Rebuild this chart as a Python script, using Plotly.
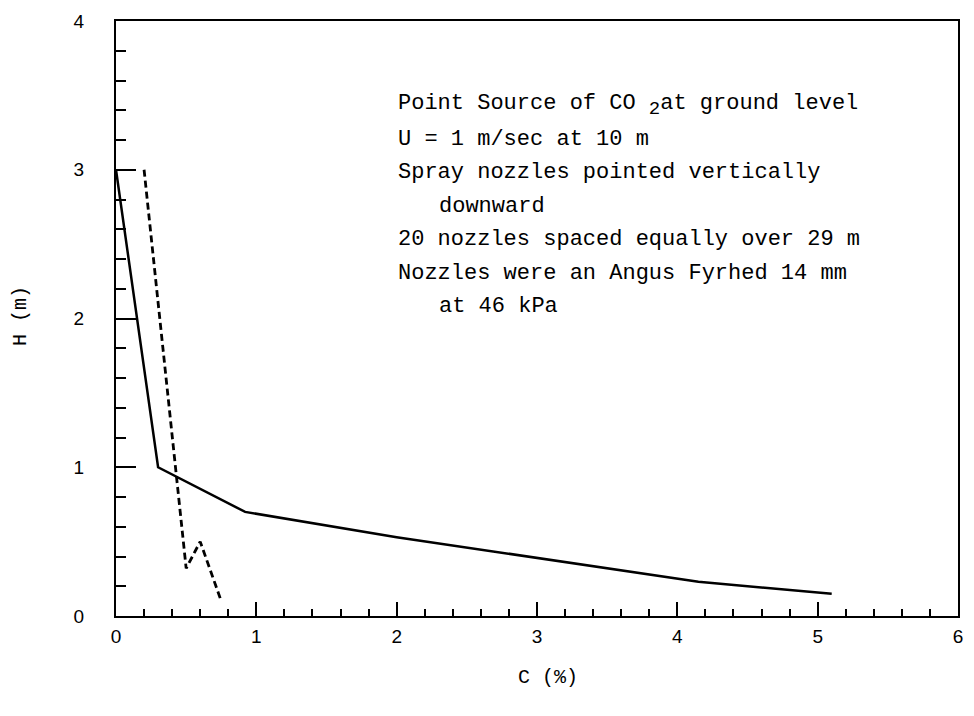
import plotly.graph_objects as go

# Concentration profiles: height H (m) versus CO2 concentration C (%)
solid_c = [0.0, 0.3, 0.92, 2.0, 4.15, 5.1]
solid_h = [3.0, 1.0, 0.70, 0.53, 0.23, 0.15]

dashed_c = [0.2, 0.5, 0.6, 0.75]
dashed_h = [3.0, 0.32, 0.5, 0.1]

x_ticks = [0, 1, 2, 3, 4, 5, 6]
y_ticks = [0, 1, 2, 3, 4]

notes = [
    ("Point Source of CO <sub><span style='font-size:19px'>2</span></sub>at ground level", 0),
    ("U = 1 m/sec at 10 m", 0),
    ("Spray nozzles pointed vertically", 0),
    ("downward", 1),
    ("20 nozzles spaced equally over 29 m", 0),
    ("Nozzles were an Angus Fyrhed 14 mm", 0),
    ("at 46 kPa", 1),
]

MONO = "Liberation Mono, Courier New, monospace"
SANS = "Liberation Sans, Arial, sans-serif"

fig = go.Figure()
fig.add_trace(go.Scatter(x=solid_c, y=solid_h, mode="lines",
                         line=dict(color="black", width=2.5),
                         showlegend=False))
fig.add_trace(go.Scatter(x=dashed_c, y=dashed_h, mode="lines",
                         line=dict(color="black", width=2.8, dash="7px,4px"),
                         showlegend=False))

W, H = 974, 716
ml, mr, mt, mb = 116, 11, 18, 100
pw, ph = W - ml - mr, H - mt - mb

def px_to_paper(xp, yp):
    return (xp - ml) / pw, (H - mb - yp) / ph

annotations = []
line_y = [103, 137, 170, 204, 238, 272, 305]
for (txt, indent), yp in zip(notes, line_y):
    xpp, ypp = px_to_paper(398 + indent * 41, yp)
    annotations.append(dict(text=txt, xref="paper", yref="paper", x=xpp, y=ypp,
                            xanchor="left", yanchor="middle", showarrow=False,
                            font=dict(family=MONO, size=22, color="black")))

xt, yt = px_to_paper(551, 678)
annotations.append(dict(text="C (%)", xref="paper", yref="paper", x=xt, y=yt,
                        xanchor="center", yanchor="middle", showarrow=False,
                        font=dict(family=MONO, size=20, color="black")))
xt, yt = px_to_paper(20, 315)
annotations.append(dict(text="H (m)", xref="paper", yref="paper", x=xt, y=yt,
                        xanchor="center", yanchor="middle", showarrow=False,
                        textangle=-90,
                        font=dict(family=MONO, size=20, color="black")))

fig.update_layout(
    width=W, height=H,
    margin=dict(l=ml, r=mr, t=mt, b=mb),
    paper_bgcolor="white", plot_bgcolor="white",
    annotations=annotations,
    xaxis=dict(range=[0, 6], tickvals=x_ticks, ticktext=[str(v) for v in x_ticks],
               showgrid=False, zeroline=False,
               showline=True, linecolor="black", linewidth=2, mirror=True,
               ticks="inside", ticklen=14, tickwidth=2, tickcolor="black",
               minor=dict(ticks="inside", dtick=0.2, ticklen=7, tickwidth=1.5,
                          tickcolor="black", showgrid=False),
               ticklabelstandoff=2,
               tickfont=dict(family=SANS, size=19, color="black")),
    yaxis=dict(range=[0, 4], tickvals=y_ticks, ticktext=[str(v) for v in y_ticks],
               showgrid=False, zeroline=False,
               showline=True, linecolor="black", linewidth=2, mirror=True,
               ticks="inside", ticklen=20, tickwidth=2, tickcolor="black",
               minor=dict(ticks="inside", dtick=0.2, ticklen=10, tickwidth=1.5,
                          tickcolor="black", showgrid=False),
               ticklabelstandoff=26,
               tickfont=dict(family=SANS, size=19, color="black")),
)

fig.write_html("out.html")
